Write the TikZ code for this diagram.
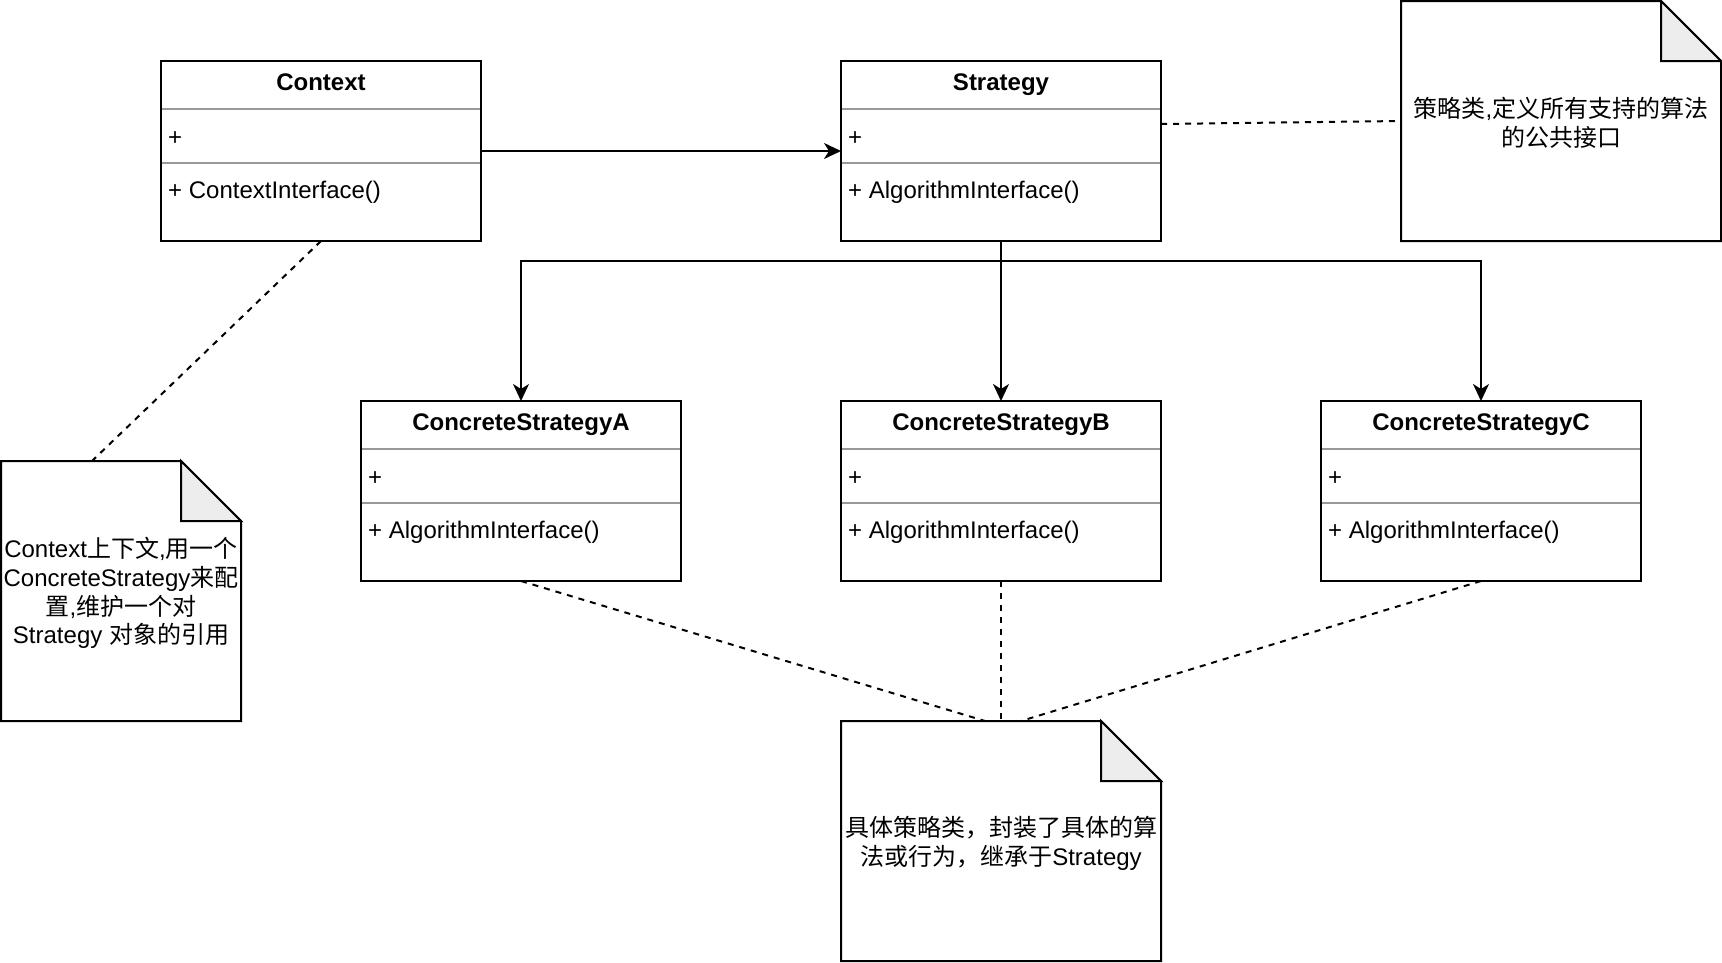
\documentclass[tikz,border=0pt]{standalone}
\usepackage{fontspec}
\setmainfont{Liberation Sans}
\newfontfamily\cjk{Noto Sans CJK SC}
\usetikzlibrary{arrows.meta,calc}
\tikzset{
  classbox/.style={draw=black, line width=2pt, rectangle, minimum width=320pt, minimum height=180pt, anchor=north west, outer sep=0pt, inner sep=0pt},
  sepline/.style={line width=2pt, draw=black!40},
  classtitle/.style={font=\fontsize{24}{28.8}\selectfont\bfseries, anchor=base, inner sep=0pt},
  member/.style={font=\fontsize{24}{28.8}\selectfont, anchor=base west, inner sep=0pt},
  notearea/.style={rectangle, anchor=north west, outer sep=0pt, inner sep=0pt},
  notetext/.style={align=center, inner sep=0pt, font=\fontsize{24}{28.8}\selectfont},
  notebody/.style={line width=2pt, draw=black, line join=miter},
  notefold/.style={line width=2pt, draw=black, fill=black!7, line join=miter},
  arr/.style={line width=2pt, -{Stealth[length=17pt,width=16pt,inset=5pt]}},
  dashlink/.style={line width=2pt, dash pattern=on 6pt off 6pt},
}
\newcommand\umlclass[5]{%
  \node[classbox] (#1) at (#2,#3) {};
  \draw[sepline] ($(#1.north west)+(1,48)$) -- ($(#1.north east)+(-1,48)$);
  \draw[sepline] ($(#1.north west)+(1,102)$) -- ($(#1.north east)+(-1,102)$);
  \node[classtitle] (#1-t) at ($(#1.north)+(0,29)$) {#4};
  \node[member] (#1-a) at ($(#1.north west)+(7,84.5)$) {+};
  \node[member] (#1-m) at ($(#1.north west)+(7,137)$) {#5};
}
\newcommand\umlnote[6]{%
  \node[notearea, minimum width=#4pt, minimum height=#5pt] (#1) at (#2,#3) {};
  \draw[notebody] (#1.north west) -- ($(#1.north east)+(-60,0)$) -- ($(#1.north east)+(0,60)$) -- (#1.south east) -- (#1.south west) -- cycle;
  \draw[notefold] ($(#1.north east)+(-60,0)$) -- ($(#1.north east)+(-60,60)$) -- ($(#1.north east)+(0,60)$) -- cycle;
  \node[notetext] (#1-txt) at ($(#1.center)+(0,2)$) {#6};
}
\begin{document}
\begin{tikzpicture}[x=1pt,y=-1pt]
\path[use as bounding box, fill=white] (0,0) rectangle (1722,962);

\umlclass{ctx}{161}{61}{Context}{+ ContextInterface()}
\umlclass{str}{841}{61}{Strategy}{+ AlgorithmInterface()}
\umlclass{ca}{361}{401}{ConcreteStrategyA}{+ AlgorithmInterface()}
\umlclass{cb}{841}{401}{ConcreteStrategyB}{+ AlgorithmInterface()}
\umlclass{cc}{1321}{401}{ConcreteStrategyC}{+ AlgorithmInterface()}

\umlnote{n1}{1401}{1}{320}{240}{{\cjk 策略类},{\cjk 定义所有支持的算法}\\{\cjk 的公共接口}}
\umlnote{n2}{1}{461}{240}{260}{Context{\cjk 上下文},{\cjk 用一个}\\ConcreteStrategy{\cjk 来配}\\{\cjk 置},{\cjk 维护一个对}\\Strategy {\cjk 对象的引用}}
\umlnote{n3}{841}{721}{320}{240}{{\cjk 具体策略类，封装了具体的算}\\{\cjk 法或行为，继承于}Strategy}

\draw[arr] (ctx.east) -- (str.west);
\draw[arr] (str.south) -- ++(0,20) -| (ca.north);
\draw[arr] (str.south) -- (cb.north);
\draw[arr] (str.south) -- ++(0,20) -| (cc.north);

\draw[dashlink] (ctx.south) -- ($(n2.north west)+(91,0)$);
\draw[dashlink] ($(str.north east)+(0,63)$) -- ($(n1.north west)+(0,120)$);
\draw[dashlink] (ca.south) -- ($(n3.north west)+(144,0)$);
\draw[dashlink] (cb.south) -- (n3.north);
\draw[dashlink] (cc.south) -- ($(n3.north west)+(180,0)$);
\end{tikzpicture}
\end{document}
